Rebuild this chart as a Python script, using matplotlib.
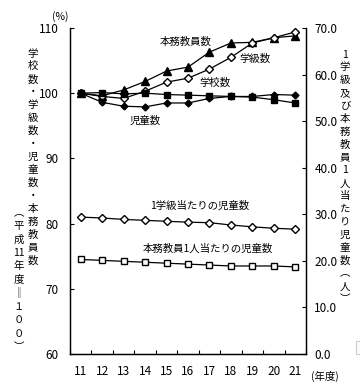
import matplotlib
matplotlib.use("Agg")
import matplotlib.pyplot as plt
from matplotlib.patches import Rectangle

plt.rcParams['font.family'] = ['Noto Sans CJK JP', 'DejaVu Sans']

# data
years = ["11", "12", "13", "14", "15", "16", "17", "18", "19", "20", "21"]
teachers = [100, 99.6, 100.5, 101.8, 103.4, 104.0, 106.3, 107.7, 107.8, 108.5, 108.8]
classes = [100, 99.5, 99.2, 100.3, 101.7, 102.3, 103.7, 105.5, 107.7, 108.5, 109.4]
schools = [100, 100.1, 99.9, 100.0, 99.8, 99.7, 99.6, 99.5, 99.4, 99.0, 98.5]
children = [100, 98.6, 98.0, 97.9, 98.5, 98.5, 99.2, 99.5, 99.5, 99.8, 99.7]
per_class = [29.4, 29.2, 28.9, 28.7, 28.5, 28.3, 28.2, 27.7, 27.3, 27.0, 26.8]
per_teacher = [20.3, 20.1, 19.9, 19.7, 19.5, 19.3, 19.1, 18.9, 18.9, 18.9, 18.7]

x = list(range(len(years)))

fig = plt.figure(figsize=(3.6, 3.89), dpi=100)
ax = fig.add_axes([70 / 360, 35 / 389, 236 / 360, 326 / 389])
ax2 = ax.twinx()

lw = 0.9
ax.plot(x, teachers, color="black", lw=lw, marker="^", ms=5.5, zorder=3)
ax.plot(x, classes, color="black", lw=lw, marker="D", ms=4, mfc="white", zorder=3)
ax.plot(x, schools, color="black", lw=lw, marker="s", ms=5, zorder=3)
ax.plot(x, children, color="black", lw=lw, marker="D", ms=3.5, zorder=3)

ax2.plot(x, per_class, color="black", lw=lw, marker="D", ms=4, mfc="white")
ax2.plot(x, per_teacher, color="black", lw=lw, marker="s", ms=4.5, mfc="white")

ax.set_xlim(-0.5, len(years) - 0.5)
ax.set_ylim(60, 110)
ax2.set_ylim(0, 70)
ax.set_yticks(range(60, 111, 10))
ax2.set_yticks(range(0, 71, 10))
ax2.set_yticklabels([f"{v:.1f}" for v in range(0, 71, 10)])

ax.set_xticks([i - 0.5 for i in range(len(years) + 1)])
ax.set_xticklabels([])
ax.set_xticks(x, minor=True)
ax.set_xticklabels(years, minor=True)
ax.tick_params(axis="x", which="minor", length=0, pad=8, labelsize=8.5)
ax.tick_params(axis="x", which="major", direction="in", length=3, width=0.8)
ax.tick_params(axis="y", direction="in", length=3, width=0.8, labelsize=8.5, pad=8)
ax2.tick_params(axis="y", direction="in", length=3, width=0.8, labelsize=8.5, pad=6)

for a in (ax, ax2):
    a.spines["top"].set_visible(False)
    for s in ("left", "right", "bottom"):
        a.spines[s].set_linewidth(0.9)

fs = 7.5
ax.text(3.7, 107.9, "本務教員数", fontsize=fs, ha="left", va="center")
ax.text(7.4, 105.3, "学級数", fontsize=fs, ha="left", va="center")
ax.text(5.55, 101.6, "学校数", fontsize=fs, ha="left", va="center")
ax.text(2.3, 95.7, "児童数", fontsize=fs, ha="left", va="center")
ax2.text(3.25, 31.8, "1学級当たりの児童数", fontsize=fs, ha="left", va="center")
ax2.text(2.9, 22.6, "本務教員1人当たりの児童数", fontsize=fs, ha="left", va="center")

# vertical axis titles
fig.text(60 / 360, 1 - 17 / 389, "(%)", fontsize=7.5, ha="center", va="center")
fig.text(325 / 360, 1 - 376 / 389, "(年度)", fontsize=7.5, ha="center", va="center")
left1 = "\n".join("学校数・学級数・児童数・本務教員数")
fig.text(33 / 360, 1 - 157 / 389, left1, fontsize=7.5, ha="center", va="center",
         linespacing=1.36)
left2 = "\n".join(["︵", "平", "成", "11", "年", "度", "‖", "１", "０", "０", "︶"])
fig.text(19 / 360, 1 - 280 / 389, left2, fontsize=7.5, ha="center", va="center",
         linespacing=1.4)
right1 = "\n".join(["1", "学", "級", "及", "び", "本", "務", "教", "員", "1", "人",
                    "当", "た", "り", "児", "童", "数", "︵", "人", "︶"])
fig.text(345 / 360, 1 - 177 / 389, right1, fontsize=7.5, ha="center", va="center",
         linespacing=1.36)

fig.patches.append(Rectangle((356 / 360, 35 / 389), 6 / 360, 13 / 389,
                             transform=fig.transFigure, fill=True,
                             facecolor="#fffbe8", edgecolor="#cccccc", lw=0.8))

fig.savefig("out.png", dpi=100)
